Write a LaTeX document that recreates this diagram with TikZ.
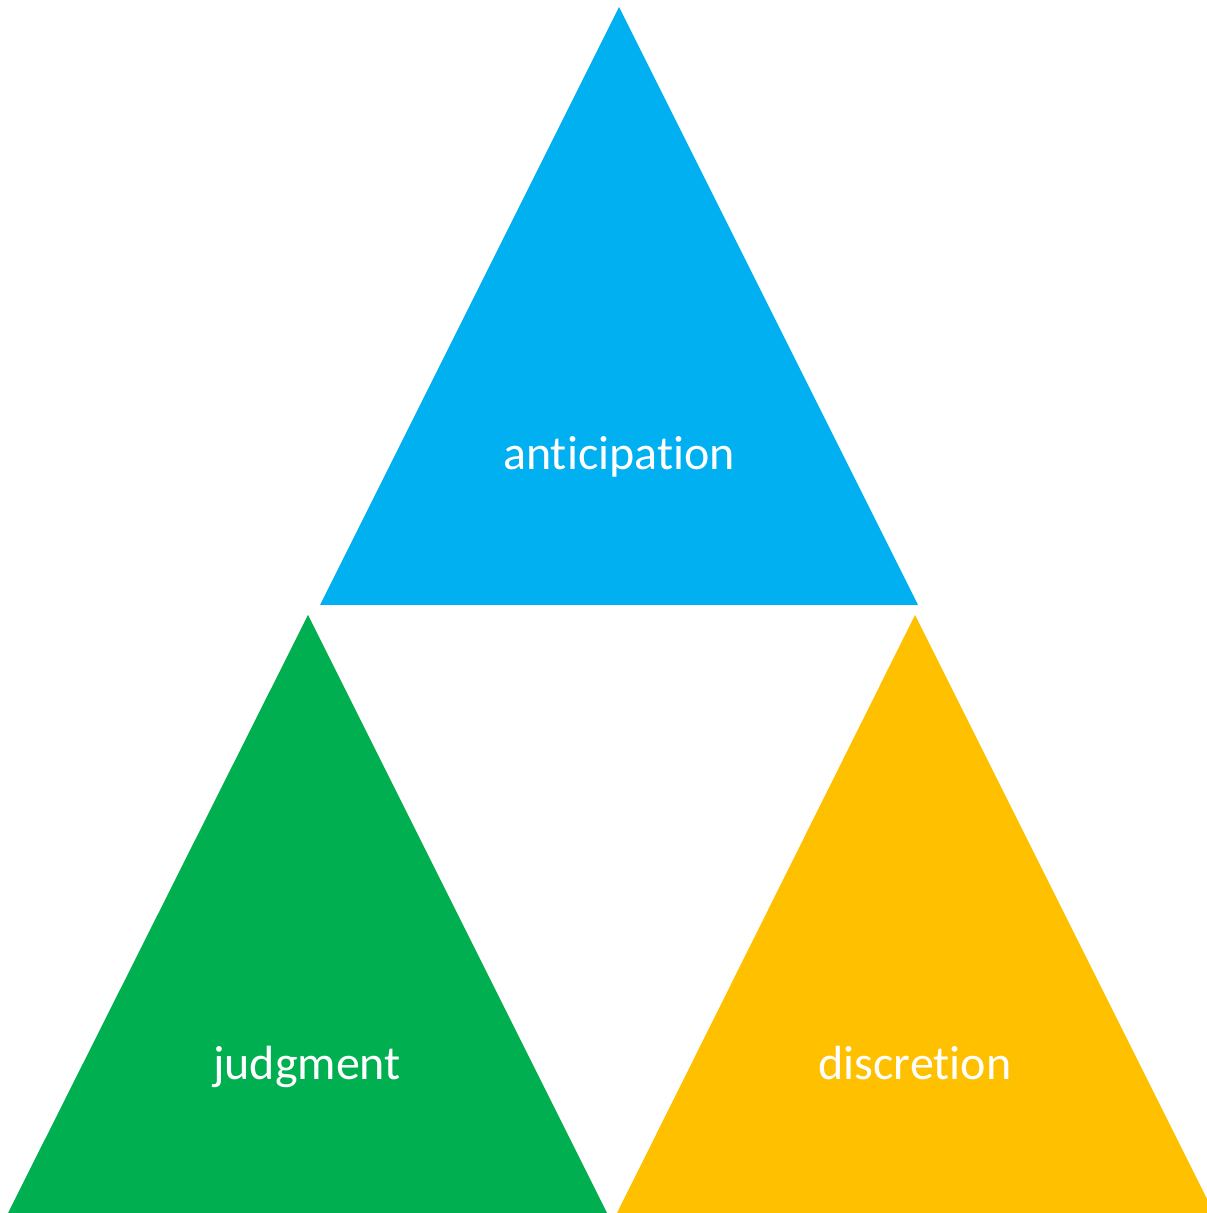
\documentclass[tikz,border=0pt]{standalone}
\usepackage{fontspec}
\setmainfont[Ligatures=NoCommon]{Carlito}
\usetikzlibrary{positioning}

\definecolor{triblue}{HTML}{00B0F0}
\definecolor{trigreen}{HTML}{00B050}
\definecolor{triyellow}{HTML}{FFC000}

\tikzset{
    tri/.style={draw=none},
    trilabel/.style={text=white, anchor=base, font=\fontsize{48}{58}\selectfont}
}

\begin{document}
\begin{tikzpicture}[x=1pt, y=1pt]
        \useasboundingbox (0,0) rectangle (1207,1213);
        \clip (0,0) rectangle (1207,1213);

        % top (anticipation)
        \fill[triblue] (619,1206) -- (918,608) -- (320,608) -- cycle;
        \node[trilabel] (anticipation) at (619,743) {anticipation};

        % bottom left (judgment)
        \fill[trigreen] (308,598) -- (607,0) -- (8,0) -- cycle;
        \node[trilabel] (judgment) at (307,133) {judgment};

        % bottom right (discretion)
        \fill[triyellow] (915,598) -- (1214,0) -- (617,0) -- cycle;
        \node[trilabel] (discretion) at (915,133) {discretion};

    \end{tikzpicture}
\end{document}
